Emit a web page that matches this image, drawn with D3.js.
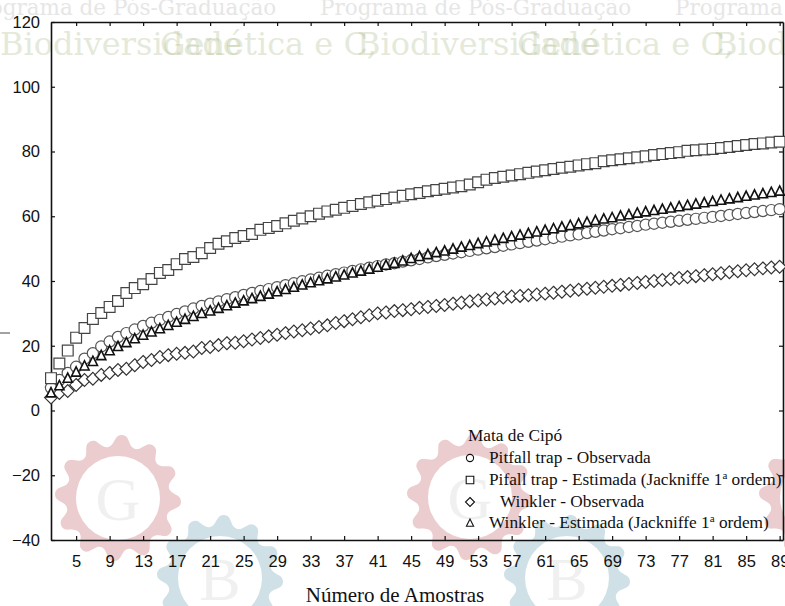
<html>
<head>
    <script src="https://d3js.org/d3.v7.min.js"></script>
    <style>
        body { margin: 0; background: white; }
        .tick text { font-family: "Liberation Sans", Arial, sans-serif; font-size: 16.5px; fill: #111; }
        .axis path.domain { stroke: #111; stroke-width: 1.6px; }
        .axis .tick line { stroke: #111; stroke-width: 1.2px; }
        .legend text { font-family: "Liberation Serif", "Times New Roman", serif; font-size: 17.3px; fill: #111; }
    </style>
</head>
<body>
<svg id="plot" width="785" height="606"></svg>
<script>
    // sample numbers (x axis)
    const amostras = d3.range(2, 90);

    // Pitfall trap - Observada (circles)
    const pitfallObs = [7, 9.4, 11.6, 13.5, 16, 17.7, 19.8, 21.3, 22.7, 23.9, 25, 26.1, 27.1, 28, 28.9, 29.8, 30.6, 31.5,
        32.3, 33, 33.7, 34.4, 35, 35.7, 36.3, 36.9, 37.5, 38.1, 38.7, 39.3, 39.9, 40.5, 41, 41.6, 42.1, 42.6, 43.1, 43.6,
        44.1, 44.6, 45.1, 45.5, 46, 46.4, 46.8, 47.3, 47.7, 48.1, 48.5, 48.9, 49.3, 49.7, 50.1, 50.5, 50.9, 51.3, 51.7,
        52.1, 52.5, 52.9, 53.3, 53.7, 54.1, 54.4, 54.8, 55.2, 55.6, 56, 56.3, 56.7, 57, 57.4, 57.7, 58, 58.3, 58.6, 58.9,
        59.2, 59.5, 59.8, 60.1, 60.4, 60.7, 61, 61.3, 61.6, 61.9, 62.2];

    // Pifall trap - Estimada (squares)
    const pitfallEst = [10, 14.5, 18.5, 22.5, 25.5, 28.3, 30.1, 32, 33.8, 36.3, 37.8, 39, 40.6, 42.5, 43.4, 45.2, 46.8,
        47.4, 48.6, 50.2, 51.5, 52.3, 53.3, 53.9, 54.5, 55.8, 56.4, 57, 57.8, 58.6, 59.3, 60, 60.8, 61.5, 62, 62.6, 63.2,
        63.8, 64.3, 64.8, 65.3, 65.8, 66.3, 66.8, 67.2, 67.7, 68.1, 68.5, 68.9, 69.3, 69.8, 70.5, 71.3, 71.8, 72.2, 72.6,
        73, 73.4, 73.8, 74.2, 74.6, 75, 75.3, 75.7, 76.1, 76.4, 77, 77.3, 77.6, 77.9, 78.2, 78.5, 78.9, 79.2, 79.5, 79.8,
        80.2, 80.4, 80.6, 80.8, 81.1, 81.4, 81.7, 82, 82.3, 82.5, 82.8, 83];

    // Winkler - Observada (diamonds)
    const winklerObs = [4, 5.4, 6, 7.9, 9.4, 9.8, 11, 11.6, 12.5, 12.9, 14, 15, 15.6, 16.5, 17.1, 17.5, 17.8, 18.2, 19.3,
        19.6, 20.2, 20.8, 20.9, 21.4, 21.9, 22.4, 22.9, 23.4, 23.9, 24.4, 24.8, 25.3, 25.8, 26.3, 27, 27.6, 28.2, 28.8,
        29.4, 30, 30.3, 30.7, 31, 31.3, 31.7, 32, 32.3, 32.6, 33, 33.3, 33.7, 34, 34.3, 34.6, 34.9, 35.2, 35.4, 35.6, 35.8,
        36.1, 36.4, 36.7, 37, 37.3, 37.6, 37.9, 38.2, 38.5, 38.8, 39.1, 39.4, 39.7, 40, 40.3, 40.6, 40.9, 41.2, 41.5, 41.8,
        42.1, 42.4, 42.7, 43, 43.3, 43.6, 43.9, 44.2, 44.4];

    // Winkler - Estimada (triangles)
    const winklerEst = [5.5, 7.7, 10, 11.9, 13.8, 15.2, 17, 18.5, 19.8, 21, 22.2, 23.3, 24.3, 25.3, 26.3, 27.3, 28.2, 29.1,
        30, 30.8, 31.6, 32.4, 33.2, 33.9, 34.6, 35.3, 36, 36.7, 37.4, 38.1, 38.8, 39.5, 40.1, 40.7, 41.3, 41.9, 42.5, 43.1,
        43.7, 44.3, 44.9, 45.5, 46.2, 47, 47.6, 48.2, 48.8, 49.3, 49.9, 50.5, 51, 51.6, 52.1, 52.6, 53.2, 53.7, 54.2, 54.7,
        55.2, 55.7, 56.2, 56.7, 57.2, 57.7, 58.2, 58.7, 59.2, 59.6, 60.1, 60.5, 61, 61.4, 61.8, 62.2, 62.6, 63, 63.4, 63.8,
        64.2, 64.6, 65, 65.4, 65.8, 66.2, 66.6, 67, 67.4, 67.8];

    const xTicks = d3.range(5, 90, 4);
    const yTicks = [-40, -20, 0, 20, 40, 60, 80, 100, 120];
    const legendTitle = "Mata de Cipó";

    const svg = d3.select("#plot");
    const margin = { top: 22, right: 2, bottom: 66, left: 51 };
    const width = +svg.attr("width");
    const height = +svg.attr("height");

    // ---- watermark (logo tiles behind everything)
    const wm = svg.append("g").attr("id", "watermark");
    [-35, 320, 675].forEach(x0 => {
        wm.append("text").attr("x", x0).attr("y", 15)
            .attr("font-family", "DejaVu Serif").attr("font-size", 21.5)
            .attr("fill", "#e6e6e6")
            .text("Programa de Pós-Graduação");
    });
    [0, 357, 714].forEach(x0 => {
        wm.append("text").attr("x", x0).attr("y", 55)
            .attr("font-family", "DejaVu Serif").attr("font-size", 32)
            .attr("fill", "#a9ba88").attr("opacity", 0.3)
            .text("Biodiversidade");
        wm.append("text").attr("x", x0 + 160).attr("y", 55)
            .attr("font-family", "DejaVu Serif").attr("font-size", 32)
            .attr("fill", "#a9ba88").attr("opacity", 0.3)
            .text("Genética e C,");
    });

    const gearLine = d3.lineRadial().curve(d3.curveCardinalClosed);
    const gearPts = d3.range(0, 48).map(i => [i / 48 * 2 * Math.PI, i % 4 < 2 ? 62 : 53]);
    const gears = [
        { cx: 118, cy: 498, c: "#ebcdcf", l: "G" },
        { cx: 470, cy: 497, c: "#ebcdcf", l: "G" },
        { cx: 822, cy: 497, c: "#ebcdcf", l: "G" },
        { cx: 220, cy: 578, c: "#cfe1e6", l: "B" },
        { cx: 567, cy: 578, c: "#cfe1e6", l: "B" }
    ];
    gears.forEach(g => {
        const gg = wm.append("g").attr("transform", `translate(${g.cx},${g.cy})`);
        gg.append("path").attr("d", gearLine(gearPts)).attr("fill", g.c);
        gg.append("circle").attr("r", 42).attr("fill", "white");
        gg.append("text").attr("text-anchor", "middle").attr("y", 22)
            .attr("font-family", "Liberation Serif").attr("font-size", 62)
            .attr("fill", "#f0f0f0").text(g.l);
    });

    // ---- scales and axes
    const xScale = d3.scaleLinear().domain([2, 89.4]).range([margin.left, width - margin.right]);
    const yScale = d3.scaleLinear().domain([-40, 120]).range([height - margin.bottom, margin.top]);

    const annotations = svg.append("g").attr("id", "annotations");

    annotations.append("g").attr("class", "axis")
        .attr("transform", `translate(0,${height - margin.bottom})`)
        .call(d3.axisBottom(xScale).tickValues(xTicks).tickSizeInner(-4).tickSizeOuter(0).tickPadding(15));
    annotations.append("g").attr("class", "axis")
        .attr("transform", `translate(0,${margin.top})`)
        .call(d3.axisTop(xScale).tickValues(xTicks).tickSizeInner(-4).tickSizeOuter(0).tickFormat(""));
    annotations.append("g").attr("class", "axis")
        .attr("transform", `translate(${margin.left},0)`)
        .call(d3.axisLeft(yScale).tickValues(yTicks).tickSizeInner(-4).tickSizeOuter(0).tickPadding(11));
    annotations.append("g").attr("class", "axis")
        .attr("transform", `translate(${width - margin.right},0)`)
        .call(d3.axisRight(yScale).tickValues(yTicks).tickSizeInner(-4).tickSizeOuter(0).tickFormat(""));

    // stray dash left of the y axis
    annotations.append("line").attr("x1", 0).attr("x2", 10).attr("y1", 333).attr("y2", 333)
        .attr("stroke", "#444").attr("stroke-width", 1);

    annotations.append("text")
        .attr("x", 395).attr("y", 602)
        .attr("text-anchor", "middle")
        .attr("font-family", "Liberation Serif").attr("font-size", 21)
        .attr("fill", "#111")
        .text("Número de Amostras");

    // ---- markers
    const circlePath = r => d3.symbol(d3.symbolCircle, Math.PI * r * r)();
    const squarePath = s => `M${-s},${-s}H${s}V${s}H${-s}Z`;
    const diamondPath = s => `M0,${-s}L${s},0L0,${s}L${-s},0Z`;
    const trianglePath = s => `M0,${-s * 1.1}L${s},${s * 0.9}L${-s},${s * 0.9}Z`;

    const series = [
        { name: "Winkler - Observada", values: winklerObs, path: diamondPath(6.4), lpath: diamondPath(4.5), stroke: "#333", sw: 1.2 },
        { name: "Pitfall trap - Observada", values: pitfallObs, path: circlePath(5.6), lpath: circlePath(3.6), stroke: "#555", sw: 1.2 },
        { name: "Pifall trap - Estimada (Jackniffe 1", values: pitfallEst, path: squarePath(5.4), lpath: squarePath(3.8), stroke: "#444", sw: 1.2 },
        { name: "Winkler - Estimada (Jackniffe 1", values: winklerEst, path: trianglePath(4.6), lpath: trianglePath(3.6), stroke: "#111", sw: 1.6 }
    ];

    const chartArea = svg.append("g").attr("id", "chartArea");
    series.forEach(s => {
        chartArea.append("g").selectAll("path")
            .data(amostras.map((a, i) => ({ x: a, v: s.values[i] })))
            .join("path")
            .attr("d", s.path)
            .attr("transform", d => `translate(${xScale(d.x)},${yScale(d.v)})`)
            .attr("fill", "white")
            .attr("stroke", s.stroke)
            .attr("stroke-width", s.sw);
    });

    // ---- legend
    const legend = svg.append("g").attr("class", "legend");
    legend.append("text").attr("x", 468).attr("y", 441).text(legendTitle);
    const rows = [
        { s: series[1], y: 463, tx: 489, sup: false },
        { s: series[2], y: 485, tx: 489, sup: true },
        { s: series[0], y: 507, tx: 500, sup: false },
        { s: series[3], y: 528, tx: 489, sup: true }
    ];
    rows.forEach(r => {
        legend.append("path").attr("d", r.s.lpath)
            .attr("transform", `translate(470,${r.y - 5})`)
            .attr("fill", "white").attr("stroke", "#111").attr("stroke-width", 1.1);
        const t = legend.append("text").attr("x", r.tx).attr("y", r.y).text(r.s.name);
        if (r.sup) {
            t.append("tspan").attr("dy", -6).attr("font-size", 11).text("a");
            t.append("tspan").attr("dy", 6).text(" ordem)");
        }
    });
</script>
</body>
</html>
